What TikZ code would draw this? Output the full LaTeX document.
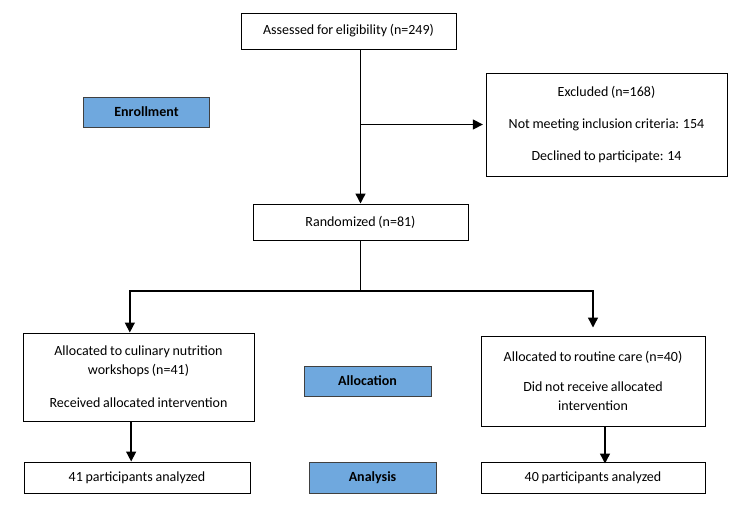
\documentclass[tikz,border=0pt]{standalone}
\usepackage{fontspec}
\setmainfont{Carlito}[WordSpace=0.85]
\usetikzlibrary{arrows.meta}
\definecolor{stageblue}{RGB}{111,168,222}

\begin{document}
\begin{tikzpicture}[x=0.75pt, y=-0.75pt,
		box/.style={draw, line width=0.75pt, align=center, inner sep=0pt,
			font=\fontsize{10.5}{14.3}\selectfont},
		stage/.style={box, fill=stageblue, draw=black!75,
			font=\fontsize{10.5}{14.3}\selectfont\bfseries},
		link/.style={line width=1.1pt},
		arr/.style={link, -{Triangle[length=7.5pt, width=7.5pt]}}] % 1
		\useasboundingbox (0,0) rectangle (750,507);

		% boxes
		\node[box, minimum width=161.25pt, minimum height=27pt] (assessed) at (348.5,31) {Assessed for eligibility (n=249)};
		\node[box, minimum width=180.75pt, minimum height=77.25pt] (excluded) at (606.5,124.5)
			{Excluded (n=168)\\[9.7pt] Not meeting inclusion criteria: 154\\[9.7pt] Declined to participate: 14};
		\node[box, minimum width=161.25pt, minimum height=27pt] (random) at (360.5,222) {Randomized (n=81)};
		\node[box, minimum width=173.25pt, minimum height=66pt] (culinary) at (138.5,377)
			{Allocated to culinary nutrition\\ workshops (n=41)\\[10.4pt] Received allocated intervention};
		\node[box, minimum width=168pt, minimum height=67.5pt] (routine) at (593,381)
			{Allocated to routine care (n=40)\\[8.2pt] Did not receive allocated\\ intervention};
		\node[box, minimum width=169.5pt, minimum height=23.25pt] (analyzed41) at (137,477.5) {41 participants analyzed};
		\node[box, minimum width=168pt, minimum height=23.25pt] (analyzed40) at (593,477.5) {40 participants analyzed};

		% stage labels
		\node[stage, minimum width=94.5pt, minimum height=22.5pt] (enrollment) at (146.5,112) {Enrollment};
		\node[stage, minimum width=95.25pt, minimum height=22.5pt] (allocation) at (367.5,381) {Allocation};
		\node[stage, minimum width=95.25pt, minimum height=23.25pt] (analysis) at (372.5,477.5) {Analysis};

		% connectors
		\coordinate (exclsplit) at (random.north |- excluded.west);
		\coordinate (fork) at (360.5,291);
		\draw[arr] (assessed.south -| random.north) -- (random.north);
		\draw[arr, shorten >=2pt] (exclsplit) -- (excluded.west);
		\draw[link] (random.south) -- (fork);
		\draw[arr] (fork) -| ([xshift=-6.5]culinary.north);
		\draw[arr, shorten >=6pt] (fork) -| (routine.north);
		\draw[arr] ([xshift=-5.5]culinary.south) -- ([xshift=-5.5]culinary.south |- analyzed41.north);
		\draw[arr, shorten >=-1.5pt] ([xshift=9]routine.south) -- ([xshift=9]routine.south |- analyzed40.north);
		\end{tikzpicture}
\end{document}
